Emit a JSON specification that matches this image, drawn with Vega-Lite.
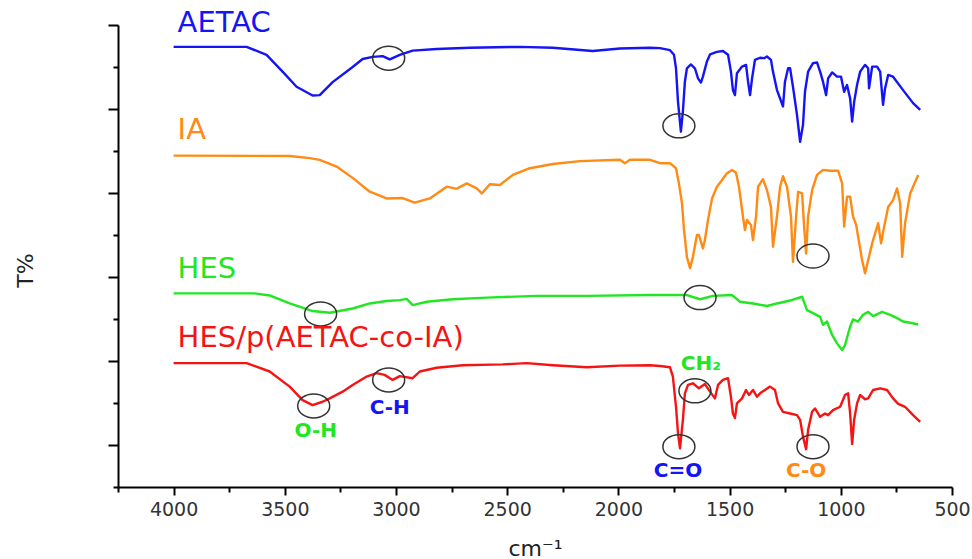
{
"$schema": "https://vega.github.io/schema/vega-lite/v6.json",
"width": 834, "height": 462,
"autosize": {"type": "none"},
"padding": {"left": 118, "top": 25, "right": 20, "bottom": 72},
"background": "white",
"config": {"view": {"stroke": null}, "axis": {"grid": false, "domainColor": "#000", "domainWidth": 2, "tickColor": "#000", "tickWidth": 2}},
"datasets": {
"spec": [
{"s":"AETAC","w":4000,"t":104.8},{"s":"AETAC","w":3672,"t":104.8},{"s":"AETAC","w":3582,"t":102.9},{"s":"AETAC","w":3510,"t":98.9},{"s":"AETAC","w":3447,"t":95.3},{"s":"AETAC","w":3375,"t":93.2},{"s":"AETAC","w":3343,"t":93.3},{"s":"AETAC","w":3285,"t":96.4},{"s":"AETAC","w":3195,"t":100},{"s":"AETAC","w":3150,"t":101.9},{"s":"AETAC","w":3105,"t":102.4},{"s":"AETAC","w":3060,"t":102.6},{"s":"AETAC","w":3028,"t":101.8},{"s":"AETAC","w":2983,"t":102.9},{"s":"AETAC","w":2925,"t":103.9},{"s":"AETAC","w":2817,"t":104.3},{"s":"AETAC","w":2668,"t":104.6},{"s":"AETAC","w":2443,"t":104.8},{"s":"AETAC","w":2295,"t":104.6},{"s":"AETAC","w":2115,"t":103.8},{"s":"AETAC","w":1993,"t":104.4},{"s":"AETAC","w":1858,"t":104.6},{"s":"AETAC","w":1813,"t":104.5},{"s":"AETAC","w":1768,"t":104.0},{"s":"AETAC","w":1750,"t":102.9},{"s":"AETAC","w":1741,"t":99.7},{"s":"AETAC","w":1732,"t":91.7},{"s":"AETAC","w":1719,"t":84.6},{"s":"AETAC","w":1710,"t":89.4},{"s":"AETAC","w":1701,"t":96.5},{"s":"AETAC","w":1692,"t":99.7},{"s":"AETAC","w":1674,"t":100.6},{"s":"AETAC","w":1656,"t":99.7},{"s":"AETAC","w":1642,"t":97.3},{"s":"AETAC","w":1629,"t":96.3},{"s":"AETAC","w":1620,"t":97.7},{"s":"AETAC","w":1602,"t":101.3},{"s":"AETAC","w":1588,"t":103.0},{"s":"AETAC","w":1557,"t":103.6},{"s":"AETAC","w":1530,"t":103.8},{"s":"AETAC","w":1507,"t":102.9},{"s":"AETAC","w":1494,"t":98.9},{"s":"AETAC","w":1485,"t":94.5},{"s":"AETAC","w":1476,"t":93.3},{"s":"AETAC","w":1467,"t":98.5},{"s":"AETAC","w":1444,"t":100.1},{"s":"AETAC","w":1426,"t":100.5},{"s":"AETAC","w":1417,"t":96.5},{"s":"AETAC","w":1408,"t":93.3},{"s":"AETAC","w":1399,"t":97.3},{"s":"AETAC","w":1386,"t":101.7},{"s":"AETAC","w":1363,"t":102.2},{"s":"AETAC","w":1345,"t":102.1},{"s":"AETAC","w":1332,"t":102.5},{"s":"AETAC","w":1314,"t":101.7},{"s":"AETAC","w":1305,"t":98.9},{"s":"AETAC","w":1287,"t":94.5},{"s":"AETAC","w":1273,"t":92.5},{"s":"AETAC","w":1260,"t":90.6},{"s":"AETAC","w":1251,"t":96.5},{"s":"AETAC","w":1237,"t":99.7},{"s":"AETAC","w":1228,"t":99.7},{"s":"AETAC","w":1214,"t":94.9},{"s":"AETAC","w":1197,"t":88.6},{"s":"AETAC","w":1183,"t":82.2},{"s":"AETAC","w":1170,"t":86.2},{"s":"AETAC","w":1161,"t":94.1},{"s":"AETAC","w":1147,"t":98.9},{"s":"AETAC","w":1125,"t":100.9},{"s":"AETAC","w":1107,"t":101.1},{"s":"AETAC","w":1093,"t":98.9},{"s":"AETAC","w":1080,"t":96.5},{"s":"AETAC","w":1066,"t":93.3},{"s":"AETAC","w":1057,"t":97.3},{"s":"AETAC","w":1039,"t":98.7},{"s":"AETAC","w":1017,"t":97.7},{"s":"AETAC","w":999,"t":97.7},{"s":"AETAC","w":985,"t":94.1},{"s":"AETAC","w":972,"t":95.7},{"s":"AETAC","w":958,"t":92.5},{"s":"AETAC","w":949,"t":87.0},{"s":"AETAC","w":940,"t":91.7},{"s":"AETAC","w":927,"t":95.7},{"s":"AETAC","w":913,"t":98.9},{"s":"AETAC","w":891,"t":100.5},{"s":"AETAC","w":877,"t":99.7},{"s":"AETAC","w":873,"t":94.9},{"s":"AETAC","w":859,"t":100.1},{"s":"AETAC","w":837,"t":100.1},{"s":"AETAC","w":823,"t":98.9},{"s":"AETAC","w":810,"t":91.0},{"s":"AETAC","w":801,"t":94.9},{"s":"AETAC","w":787,"t":98.1},{"s":"AETAC","w":765,"t":97.7},{"s":"AETAC","w":720,"t":94.5},{"s":"AETAC","w":675,"t":91.4},{"s":"AETAC","w":643,"t":89.8},
{"s":"IA","w":4000,"t":78.9},{"s":"IA","w":3478,"t":78.8},{"s":"IA","w":3388,"t":78.3},{"s":"IA","w":3343,"t":77.9},{"s":"IA","w":3267,"t":76.3},{"s":"IA","w":3195,"t":73.6},{"s":"IA","w":3118,"t":70.3},{"s":"IA","w":3042,"t":68.7},{"s":"IA","w":2970,"t":68.8},{"s":"IA","w":2916,"t":67.7},{"s":"IA","w":2848,"t":68.7},{"s":"IA","w":2772,"t":71.5},{"s":"IA","w":2727,"t":71.0},{"s":"IA","w":2682,"t":72.3},{"s":"IA","w":2637,"t":71.1},{"s":"IA","w":2614,"t":69.9},{"s":"IA","w":2578,"t":72.1},{"s":"IA","w":2533,"t":71.9},{"s":"IA","w":2475,"t":74.3},{"s":"IA","w":2398,"t":75.9},{"s":"IA","w":2295,"t":76.9},{"s":"IA","w":2173,"t":77.6},{"s":"IA","w":1993,"t":77.9},{"s":"IA","w":1971,"t":77.1},{"s":"IA","w":1948,"t":77.9},{"s":"IA","w":1858,"t":77.9},{"s":"IA","w":1813,"t":77.1},{"s":"IA","w":1768,"t":77.1},{"s":"IA","w":1741,"t":75.9},{"s":"IA","w":1728,"t":72.3},{"s":"IA","w":1714,"t":67.5},{"s":"IA","w":1705,"t":61.2},{"s":"IA","w":1692,"t":54.8},{"s":"IA","w":1678,"t":52.1},{"s":"IA","w":1665,"t":54.8},{"s":"IA","w":1647,"t":60.0},{"s":"IA","w":1638,"t":60.0},{"s":"IA","w":1620,"t":56.8},{"s":"IA","w":1611,"t":58.8},{"s":"IA","w":1597,"t":63.6},{"s":"IA","w":1579,"t":68.7},{"s":"IA","w":1557,"t":71.5},{"s":"IA","w":1534,"t":73.1},{"s":"IA","w":1512,"t":74.7},{"s":"IA","w":1489,"t":75.5},{"s":"IA","w":1471,"t":74.8},{"s":"IA","w":1458,"t":71.5},{"s":"IA","w":1440,"t":64.4},{"s":"IA","w":1431,"t":61.2},{"s":"IA","w":1422,"t":63.6},{"s":"IA","w":1404,"t":62.4},{"s":"IA","w":1395,"t":58.8},{"s":"IA","w":1381,"t":64.4},{"s":"IA","w":1372,"t":71.5},{"s":"IA","w":1350,"t":73.3},{"s":"IA","w":1332,"t":70.7},{"s":"IA","w":1314,"t":66.7},{"s":"IA","w":1305,"t":57.2},{"s":"IA","w":1287,"t":64.4},{"s":"IA","w":1273,"t":71.5},{"s":"IA","w":1260,"t":74.0},{"s":"IA","w":1242,"t":71.5},{"s":"IA","w":1224,"t":64.4},{"s":"IA","w":1215,"t":53.6},{"s":"IA","w":1201,"t":64.4},{"s":"IA","w":1192,"t":70.3},{"s":"IA","w":1174,"t":69.9},{"s":"IA","w":1165,"t":62.0},{"s":"IA","w":1156,"t":55.6},{"s":"IA","w":1147,"t":64.4},{"s":"IA","w":1129,"t":70.7},{"s":"IA","w":1107,"t":74.3},{"s":"IA","w":1080,"t":75.5},{"s":"IA","w":1048,"t":75.3},{"s":"IA","w":1012,"t":75.3},{"s":"IA","w":994,"t":72.3},{"s":"IA","w":985,"t":62.0},{"s":"IA","w":972,"t":69.1},{"s":"IA","w":958,"t":69.1},{"s":"IA","w":945,"t":64.4},{"s":"IA","w":931,"t":62.4},{"s":"IA","w":922,"t":59.6},{"s":"IA","w":904,"t":54.0},{"s":"IA","w":891,"t":50.9},{"s":"IA","w":877,"t":54.0},{"s":"IA","w":859,"t":58.0},{"s":"IA","w":841,"t":61.2},{"s":"IA","w":832,"t":62.8},{"s":"IA","w":819,"t":58.0},{"s":"IA","w":805,"t":62.0},{"s":"IA","w":787,"t":66.7},{"s":"IA","w":765,"t":68.3},{"s":"IA","w":747,"t":71.1},{"s":"IA","w":733,"t":67.5},{"s":"IA","w":724,"t":54.8},{"s":"IA","w":711,"t":62.8},{"s":"IA","w":688,"t":69.9},{"s":"IA","w":652,"t":74.3},
{"s":"HES","w":4000,"t":46.1},{"s":"HES","w":3636,"t":46.1},{"s":"HES","w":3568,"t":45.6},{"s":"HES","w":3478,"t":43.7},{"s":"HES","w":3375,"t":41.9},{"s":"HES","w":3298,"t":41.5},{"s":"HES","w":3195,"t":42.5},{"s":"HES","w":3118,"t":43.7},{"s":"HES","w":3042,"t":44.3},{"s":"HES","w":2983,"t":44.5},{"s":"HES","w":2952,"t":44.8},{"s":"HES","w":2925,"t":43.3},{"s":"HES","w":2862,"t":44.1},{"s":"HES","w":2745,"t":44.7},{"s":"HES","w":2592,"t":45.1},{"s":"HES","w":2367,"t":45.5},{"s":"HES","w":2142,"t":45.5},{"s":"HES","w":1858,"t":45.7},{"s":"HES","w":1692,"t":45.7},{"s":"HES","w":1633,"t":44.7},{"s":"HES","w":1575,"t":45.5},{"s":"HES","w":1489,"t":45.7},{"s":"HES","w":1453,"t":44.1},{"s":"HES","w":1395,"t":43.7},{"s":"HES","w":1332,"t":43.1},{"s":"HES","w":1287,"t":43.7},{"s":"HES","w":1228,"t":44.4},{"s":"HES","w":1174,"t":45.3},{"s":"HES","w":1152,"t":42.1},{"s":"HES","w":1125,"t":41.4},{"s":"HES","w":1093,"t":40.5},{"s":"HES","w":1080,"t":38.6},{"s":"HES","w":1062,"t":39.4},{"s":"HES","w":1039,"t":36.2},{"s":"HES","w":1017,"t":34.2},{"s":"HES","w":994,"t":32.6},{"s":"HES","w":981,"t":33.8},{"s":"HES","w":958,"t":38.2},{"s":"HES","w":945,"t":39.9},{"s":"HES","w":922,"t":39.4},{"s":"HES","w":900,"t":41.0},{"s":"HES","w":877,"t":41.7},{"s":"HES","w":855,"t":40.7},{"s":"HES","w":814,"t":41.7},{"s":"HES","w":778,"t":41.0},{"s":"HES","w":747,"t":40.2},{"s":"HES","w":720,"t":39.4},{"s":"HES","w":688,"t":39.1},{"s":"HES","w":652,"t":38.7},
{"s":"HES/p(AETAC-co-IA)","w":4000,"t":29.5},{"s":"HES/p(AETAC-co-IA)","w":3672,"t":29.5},{"s":"HES/p(AETAC-co-IA)","w":3568,"t":27.5},{"s":"HES/p(AETAC-co-IA)","w":3478,"t":23.9},{"s":"HES/p(AETAC-co-IA)","w":3420,"t":20.7},{"s":"HES/p(AETAC-co-IA)","w":3375,"t":19.5},{"s":"HES/p(AETAC-co-IA)","w":3330,"t":20.3},{"s":"HES/p(AETAC-co-IA)","w":3298,"t":21.1},{"s":"HES/p(AETAC-co-IA)","w":3240,"t":22.7},{"s":"HES/p(AETAC-co-IA)","w":3195,"t":24.3},{"s":"HES/p(AETAC-co-IA)","w":3132,"t":26.3},{"s":"HES/p(AETAC-co-IA)","w":3087,"t":27.1},{"s":"HES/p(AETAC-co-IA)","w":3051,"t":26.7},{"s":"HES/p(AETAC-co-IA)","w":3015,"t":25.5},{"s":"HES/p(AETAC-co-IA)","w":2983,"t":26.4},{"s":"HES/p(AETAC-co-IA)","w":2925,"t":25.9},{"s":"HES/p(AETAC-co-IA)","w":2893,"t":27.5},{"s":"HES/p(AETAC-co-IA)","w":2817,"t":28.4},{"s":"HES/p(AETAC-co-IA)","w":2700,"t":29.0},{"s":"HES/p(AETAC-co-IA)","w":2520,"t":29.2},{"s":"HES/p(AETAC-co-IA)","w":2412,"t":29.5},{"s":"HES/p(AETAC-co-IA)","w":2295,"t":29.0},{"s":"HES/p(AETAC-co-IA)","w":2142,"t":28.5},{"s":"HES/p(AETAC-co-IA)","w":1993,"t":28.9},{"s":"HES/p(AETAC-co-IA)","w":1858,"t":29.0},{"s":"HES/p(AETAC-co-IA)","w":1813,"t":28.8},{"s":"HES/p(AETAC-co-IA)","w":1768,"t":28.5},{"s":"HES/p(AETAC-co-IA)","w":1755,"t":26.3},{"s":"HES/p(AETAC-co-IA)","w":1741,"t":19.1},{"s":"HES/p(AETAC-co-IA)","w":1732,"t":12.8},{"s":"HES/p(AETAC-co-IA)","w":1723,"t":9.2},{"s":"HES/p(AETAC-co-IA)","w":1710,"t":16.0},{"s":"HES/p(AETAC-co-IA)","w":1701,"t":22.3},{"s":"HES/p(AETAC-co-IA)","w":1687,"t":24.3},{"s":"HES/p(AETAC-co-IA)","w":1665,"t":24.7},{"s":"HES/p(AETAC-co-IA)","w":1638,"t":23.5},{"s":"HES/p(AETAC-co-IA)","w":1611,"t":24.5},{"s":"HES/p(AETAC-co-IA)","w":1588,"t":22.7},{"s":"HES/p(AETAC-co-IA)","w":1566,"t":21.1},{"s":"HES/p(AETAC-co-IA)","w":1552,"t":24.3},{"s":"HES/p(AETAC-co-IA)","w":1530,"t":25.5},{"s":"HES/p(AETAC-co-IA)","w":1507,"t":25.9},{"s":"HES/p(AETAC-co-IA)","w":1494,"t":21.5},{"s":"HES/p(AETAC-co-IA)","w":1485,"t":17.5},{"s":"HES/p(AETAC-co-IA)","w":1476,"t":16.4},{"s":"HES/p(AETAC-co-IA)","w":1467,"t":19.9},{"s":"HES/p(AETAC-co-IA)","w":1444,"t":21.1},{"s":"HES/p(AETAC-co-IA)","w":1426,"t":23.1},{"s":"HES/p(AETAC-co-IA)","w":1413,"t":21.9},{"s":"HES/p(AETAC-co-IA)","w":1395,"t":23.1},{"s":"HES/p(AETAC-co-IA)","w":1377,"t":21.5},{"s":"HES/p(AETAC-co-IA)","w":1363,"t":22.3},{"s":"HES/p(AETAC-co-IA)","w":1341,"t":23.1},{"s":"HES/p(AETAC-co-IA)","w":1318,"t":23.9},{"s":"HES/p(AETAC-co-IA)","w":1296,"t":23.1},{"s":"HES/p(AETAC-co-IA)","w":1282,"t":19.9},{"s":"HES/p(AETAC-co-IA)","w":1260,"t":17.9},{"s":"HES/p(AETAC-co-IA)","w":1228,"t":17.5},{"s":"HES/p(AETAC-co-IA)","w":1197,"t":17.1},{"s":"HES/p(AETAC-co-IA)","w":1183,"t":16.0},{"s":"HES/p(AETAC-co-IA)","w":1170,"t":12.0},{"s":"HES/p(AETAC-co-IA)","w":1156,"t":9.0},{"s":"HES/p(AETAC-co-IA)","w":1147,"t":13.6},{"s":"HES/p(AETAC-co-IA)","w":1129,"t":17.9},{"s":"HES/p(AETAC-co-IA)","w":1116,"t":18.7},{"s":"HES/p(AETAC-co-IA)","w":1093,"t":16.7},{"s":"HES/p(AETAC-co-IA)","w":1071,"t":17.5},{"s":"HES/p(AETAC-co-IA)","w":1057,"t":17.1},{"s":"HES/p(AETAC-co-IA)","w":1035,"t":18.3},{"s":"HES/p(AETAC-co-IA)","w":1003,"t":19.1},{"s":"HES/p(AETAC-co-IA)","w":981,"t":21.9},{"s":"HES/p(AETAC-co-IA)","w":967,"t":22.3},{"s":"HES/p(AETAC-co-IA)","w":958,"t":17.5},{"s":"HES/p(AETAC-co-IA)","w":949,"t":10.2},{"s":"HES/p(AETAC-co-IA)","w":940,"t":16.0},{"s":"HES/p(AETAC-co-IA)","w":927,"t":19.9},{"s":"HES/p(AETAC-co-IA)","w":913,"t":21.9},{"s":"HES/p(AETAC-co-IA)","w":891,"t":20.9},{"s":"HES/p(AETAC-co-IA)","w":877,"t":21.1},{"s":"HES/p(AETAC-co-IA)","w":855,"t":23.1},{"s":"HES/p(AETAC-co-IA)","w":823,"t":23.5},{"s":"HES/p(AETAC-co-IA)","w":792,"t":23.1},{"s":"HES/p(AETAC-co-IA)","w":765,"t":21.1},{"s":"HES/p(AETAC-co-IA)","w":742,"t":19.8},{"s":"HES/p(AETAC-co-IA)","w":711,"t":19.1},{"s":"HES/p(AETAC-co-IA)","w":675,"t":17.1},{"s":"HES/p(AETAC-co-IA)","w":643,"t":15.5}
],
"circ": [
{"w":3033,"t":102.1},{"w":1728,"t":86.0},{"w":1125,"t":55.0},{"w":3339,"t":41.2},{"w":1633,"t":45.1},{"w":3370,"t":19.3},{"w":3033,"t":25.5},{"w":1656,"t":22.9},{"w":1728,"t":9.6},{"w":1125,"t":9.6}
],
"lab": [
{"txt":"AETAC","s":"AETAC","w":3982,"t":108.3},
{"txt":"IA","s":"IA","w":3982,"t":82.8},
{"txt":"HES","s":"HES","w":3982,"t":49.7},
{"txt":"HES/p(AETAC-co-IA)","s":"HES/p(AETAC-co-IA)","w":3982,"t":33.3}
],
"ann": [
{"txt":"O-H","s":"HES","w":3361,"t":12.0},
{"txt":"C-H","s":"AETAC","w":3028,"t":17.5},
{"txt":"C=O","s":"AETAC","w":1732,"t":2.3},
{"txt":"C-O","s":"IA","w":1156,"t":2.3},
{"txt":"CH₂","s":"HES","w":1629,"t":27.9}
]
},
"layer": [
{"data": {"name": "spec"},
 "mark": {"type": "line", "strokeWidth": 2.4, "strokeJoin": "round"},
 "encoding": {
  "x": {"field": "w", "type": "quantitative", "scale": {"domain": [4250, 500], "nice": false, "zero": false},
        "axis": {"values": [4250,4000,3750,3500,3250,3000,2750,2500,2250,2000,1750,1500,1250,1000,750,500], "format": "d",
                 "labelExpr": "datum.value % 500 === 0 ? datum.label : ''",
                 "tickSize": {"condition": {"test": "datum.value % 500 === 0", "value": 8}, "value": 5},
                 "labelFont": "DejaVu Sans", "labelFontSize": 19, "labelColor": "#333", "labelPadding": 5, "labelFlush": false, "labelOverlap": false,
                 "title": "cm⁻¹", "titleFont": "DejaVu Sans", "titleFontSize": 22, "titleFontWeight": "normal", "titleColor": "#222",
                 "titleBaseline": "alphabetic", "titleY": 68}},
  "y": {"field": "t", "type": "quantitative", "scale": {"domain": [0, 110], "nice": false, "zero": false},
        "axis": {"values": [0,10,20,30,40,50,60,70,80,90,100,110], "labels": false,
                 "tickSize": {"condition": {"test": "datum.value % 20 === 10", "value": 10}, "value": 5},
                 "title": "T%", "titleFont": "DejaVu Sans", "titleFontSize": 22, "titleFontWeight": "normal", "titleColor": "#222",
                 "titleAngle": -90, "titleBaseline": "alphabetic", "titleAlign": "center", "titleX": -86, "titleY": 245}},
  "color": {"field": "s", "type": "nominal", "scale": {"domain": ["AETAC","IA","HES","HES/p(AETAC-co-IA)"], "range": ["#1414f5","#ff8a14","#22e622","#f51414"]}, "legend": null},
  "detail": {"field": "s"}
 }},
{"data": {"name": "circ"},
 "mark": {"type": "point", "shape": "M -1 0 A 1 0.75 0 1 0 1 0 A 1 0.75 0 1 0 -1 0 Z", "size": 1024, "filled": false, "stroke": "#333", "strokeWidth": 1.5, "opacity": 1},
 "encoding": {"x": {"field": "w", "type": "quantitative"}, "y": {"field": "t", "type": "quantitative"}}},
{"data": {"name": "lab"},
 "mark": {"type": "text", "align": "left", "baseline": "alphabetic", "font": "DejaVu Sans", "fontSize": 29},
 "encoding": {"x": {"field": "w", "type": "quantitative"}, "y": {"field": "t", "type": "quantitative"}, "text": {"field": "txt"},
   "color": {"field": "s", "type": "nominal", "legend": null}}},
{"data": {"name": "ann"},
 "mark": {"type": "text", "align": "center", "baseline": "alphabetic", "font": "DejaVu Sans", "fontSize": 20, "fontWeight": "bold"},
 "encoding": {"x": {"field": "w", "type": "quantitative"}, "y": {"field": "t", "type": "quantitative"}, "text": {"field": "txt"},
   "color": {"field": "s", "type": "nominal", "legend": null}}}
]
}
